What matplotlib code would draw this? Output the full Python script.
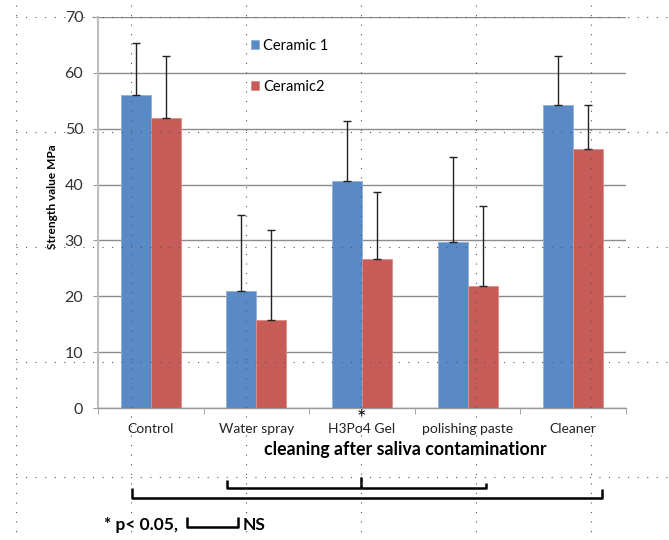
import numpy as np
import matplotlib
matplotlib.use('Agg')
import matplotlib.pyplot as plt

plt.rcParams.update({'font.family': 'Lato', 'font.size': 10})

CATS = ['Control', 'Water spray', 'H3Po4 Gel', 'polishing paste', 'Cleaner']
CER1 = [56.0, 20.9, 40.6, 29.7, 54.2]
CER1_TOP = [65.4, 34.6, 51.3, 44.9, 63.0]
CER2 = [52.0, 15.7, 26.6, 21.8, 46.4]
CER2_TOP = [63.0, 31.9, 38.6, 36.1, 54.2]
YTICKS = list(range(0, 71, 10))
BLUE, RED = '#5A8AC6', '#C75B57'

W, H = 669, 540
fig = plt.figure(figsize=(W / 100, H / 100), dpi=100)
ax = fig.add_axes([98 / W, 1 - 408 / H, (626 - 98) / W, (408 - 17) / H])

x = np.arange(len(CATS))
bw = 0.284
c1 = np.array(CER1); c2 = np.array(CER2)
ax.bar(x - bw / 2, c1, bw, color=BLUE, edgecolor='#8fb0dc', lw=0.6, label='Ceramic 1', zorder=3)
ax.bar(x + bw / 2, c2, bw, color=RED, edgecolor='#dc8e8b', lw=0.6, label='Ceramic2', zorder=3)
ax.errorbar(x - bw / 2, c1, yerr=[np.zeros(5), np.array(CER1_TOP) - c1], fmt='none',
            ecolor='#222', elinewidth=1, capsize=3, capthick=1, zorder=4)
ax.errorbar(x + bw / 2, c2, yerr=[np.zeros(5), np.array(CER2_TOP) - c2], fmt='none',
            ecolor='#222', elinewidth=1, capsize=3, capthick=1, zorder=4)

ax.set_xlim(-0.5, len(CATS) - 0.5)
ax.set_ylim(0, 70)
ax.set_yticks(YTICKS)
ax.tick_params(axis='y', length=3.6, color='#999', pad=7, labelsize=11.5, labelcolor='#333')
ax.set_xticks(x)
ax.set_xticklabels(CATS)
ax.tick_params(axis='x', which='major', length=0, pad=11, labelsize=10, labelcolor='#222')
ax.set_xticks(np.arange(-0.5, len(CATS), 1), minor=True)
ax.tick_params(axis='x', which='minor', length=4, color='#999')
ax.yaxis.grid(True, color='#8c8c8c', lw=1)
ax.set_axisbelow(True)
for s in ('top', 'right'):
    ax.spines[s].set_visible(False)
ax.spines['left'].set_color('#bfbfbf'); ax.spines['left'].set_linewidth(1.5)
ax.spines['bottom'].set_color('#999'); ax.spines['bottom'].set_linewidth(1)

ax.legend(loc='upper left', bbox_to_anchor=(251 / W, 1 - 39 / H), bbox_transform=fig.transFigure,
          frameon=False, borderpad=0, borderaxespad=0, fontsize=10.5, handlelength=0.55,
          handleheight=0.55, handletextpad=0.3, labelspacing=1.85)

# overlay in pixel coordinates for brackets, labels and the dotted drawing grid
ov = fig.add_axes([0, 0, 1, 1], zorder=10)
ov.set_xlim(0, W); ov.set_ylim(H, 0); ov.axis('off'); ov.patch.set_alpha(0)

# significance star under H3Po4 Gel
ov.text(361, 419, '*', ha='center', va='center', fontsize=16)

fig.text(53 / W, 1 - 197 / H, 'Strength value MPa', rotation=90, ha='center', va='center',
         fontsize=8.6, fontweight='bold')
fig.text(405 / W, 1 - 449 / H, 'cleaning after saliva contaminationr', ha='center', va='center',
         fontsize=12.8, fontweight='bold')

bk = dict(color='black', lw=1.8, solid_capstyle='butt')
ov.plot([227, 227, 486, 486], [480, 488, 488, 483], **bk)
ov.plot([361, 361], [477, 488], **bk)
ov.plot([132, 132, 602, 602], [488, 498, 498, 489], **bk)
ov.plot([187, 187, 238, 238], [517, 527, 527, 517], **bk)
ov.text(104, 525, '* p< 0.05,', ha='left', va='center', fontsize=12.5, fontweight='bold')
ov.text(243, 525, 'NS', ha='left', va='center', fontsize=12.5, fontweight='bold')

dots = dict(color='#555', lw=0.8, dashes=(1, 7.6))
for gx in range(16, W, 115):
    ov.plot([gx, gx], [5, H], **dots)
for gy in range(17, H, 115):
    ov.plot([16, W], [gy, gy], **dots)

fig.savefig('out.png', dpi=100)
